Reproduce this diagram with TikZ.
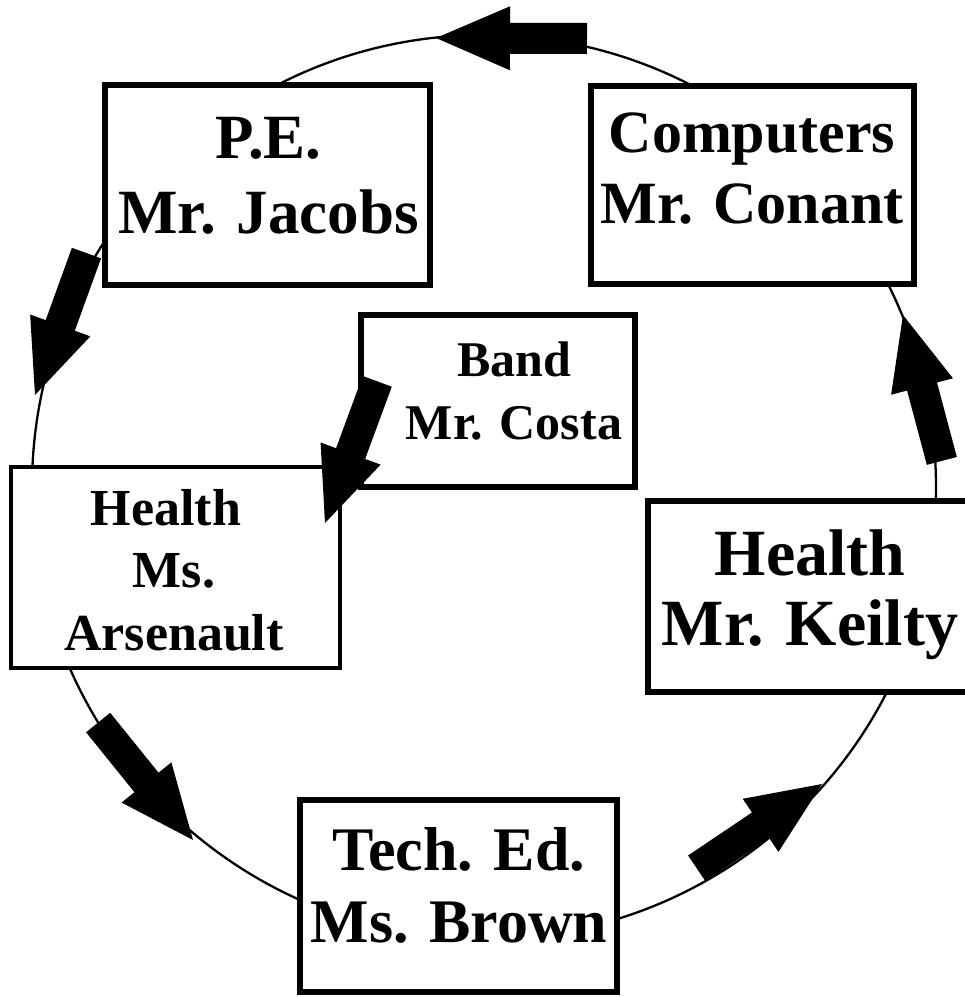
\documentclass[tikz,border=0pt]{standalone}
\usepackage{fontspec}
\setmainfont{Liberation Serif}
\usetikzlibrary{calc}
\newcommand\BlockArrow[2]{%
  \fill let \p1=(#1), \p2=(#2), \n1={atan2(\y2-\y1,\x2-\x1)} in
    [shift={(\p2)}, rotate=\n1] (0,0) -- (-74,32) -- (-74,15.5) -- (-151,15.5)
    -- (-151,-15.5) -- (-74,-15.5) -- (-74,-32) -- cycle;}
\begin{document}
\begin{tikzpicture}[x=1pt,y=-1pt,
  ring/.style={line width=2.3pt},
  boxthick/.style={draw, fill=white, line width=6pt, inner sep=0pt},
  boxthin/.style={draw, fill=white, line width=4pt, inner sep=0pt},
  txt/.style={inner sep=0pt, align=center, anchor=base}]
\useasboundingbox (0,0) rectangle (965,997);
\clip (0,0) rectangle (965,997);
\fill[white] (0,0) rectangle (965,997);
% ring
\coordinate (ctr) at (484,487);
\draw[ring] (ctr) circle[radius=452];
% boxes
\node[boxthick, minimum width=325pt, minimum height=200pt] (pe) at (267.5,185) {};
\node[boxthick, minimum width=323pt, minimum height=198pt] (comp) at (752.5,185) {};
\node[boxthick, minimum width=274pt, minimum height=172pt] (band) at (498,401) {};
\node[boxthin, minimum width=329pt, minimum height=201pt] (ars) at (175.5,567.5) {};
\node[boxthick, minimum width=327pt, minimum height=191pt] (keil) at (811.5,596.5) {};
\node[boxthick, minimum width=317pt, minimum height=192pt] (tech) at (458.5,896) {};
% texts (base anchor = baseline of last line)
\node[txt, font=\fontsize{63}{75}\selectfont\bfseries] (pet) at (268.5,233) {P.E.\\Mr. Jacobs};
\node[txt, font=\fontsize{60}{71}\selectfont\bfseries] (compt) at (752,223) {Computers\\Mr. Conant};
\node[txt, font=\fontsize{50}{63}\selectfont\bfseries] (bandt) at (514,439) {Band\\Mr. Costa};
\node[txt, font=\fontsize{52}{62.5}\selectfont\bfseries] (arst) at (174,650) {Health\kern16pt\\Ms.\\Arsenault};
\node[txt, font=\fontsize{66}{70}\selectfont\bfseries] (keilt) at (810,645) {Health\\Mr. Keilty};
\node[txt, font=\fontsize{62}{72}\selectfont\bfseries] (techt) at (459,942) {Tech. Ed.\\Ms. Brown};
% arrow end points
\coordinate (a1s) at (587,38.5);  \coordinate (a1e) at (436,38);
\coordinate (a2s) at (86.5,253);  \coordinate (a2e) at (35,395);
\coordinate (a3s) at (377,382);   \coordinate (a3e) at (325,523);
\coordinate (a4s) at (98.5,723);  \coordinate (a4e) at (193,840);
\coordinate (a5s) at (698,867.5); \coordinate (a5e) at (822,784);
\coordinate (a6s) at (942,461.5); \coordinate (a6e) at (903,315);
\BlockArrow{a1s}{a1e}
\BlockArrow{a2s}{a2e}
\BlockArrow{a3s}{a3e}
\BlockArrow{a4s}{a4e}
\BlockArrow{a5s}{a5e}
\BlockArrow{a6s}{a6e}
\end{tikzpicture}
\end{document}
